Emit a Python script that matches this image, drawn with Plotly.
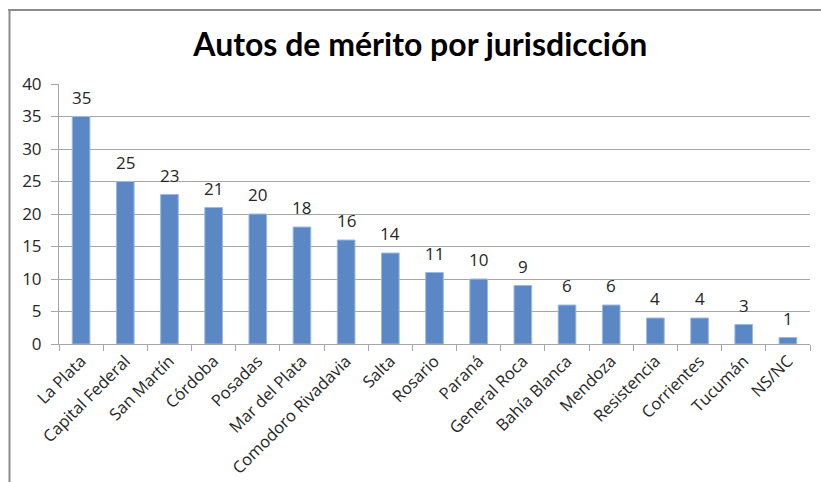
import plotly.graph_objects as go

# Jurisdictions and number of "autos de mérito" in each
jurisdicciones = [
    "La Plata", "Capital Federal", "San Martín", "Córdoba", "Posadas",
    "Mar del Plata", "Comodoro Rivadavia", "Salta", "Rosario", "Paraná",
    "General Roca", "Bahía Blanca", "Mendoza", "Resistencia", "Corrientes",
    "Tucumán", "NS/NC",
]
autos = [35, 25, 23, 21, 20, 18, 16, 14, 11, 10, 9, 6, 6, 4, 4, 3, 1]

y_ticks = [0, 5, 10, 15, 20, 25, 30, 35, 40]

FONT = "Open Sans"
TEXT = "#262626"
GRID = "#a6a6a6"

W, H = 821, 482
ML, MR, MT, MB = 59, 11, 84, 138
pw, ph = W - ML - MR, H - MT - MB


def px_x(v):
    return (v - ML) / pw


def px_y(v):
    return (H - MB - v) / ph


fig = go.Figure(
    go.Bar(
        x=jurisdicciones,
        y=autos,
        marker=dict(color="#5b87c4", line=dict(color="#9dbbe0", width=1)),
    )
)

# value labels floating a little above each bar
for name, val in zip(jurisdicciones, autos):
    fig.add_annotation(
        x=name, y=val, text=str(val), showarrow=False,
        yanchor="bottom", yshift=6,
        font=dict(family=FONT, size=17, color=TEXT),
    )

fig.update_layout(
    width=W,
    height=H,
    margin=dict(l=ML, r=MR, t=MT, b=MB, autoexpand=False),
    paper_bgcolor="white",
    plot_bgcolor="white",
    bargap=0.6,
    showlegend=False,
    title=dict(
        text="<b>Autos de mérito por jurisdicción</b>",
        x=0.512,
        xanchor="center",
        y=1 - 45 / H,
        yanchor="middle",
        font=dict(family="Lato", size=32, color="black"),
    ),
    xaxis=dict(
        automargin=False,
        tickangle=-45,
        tickfont=dict(family=FONT, size=16.5, color=TEXT),
        showline=True,
        linecolor=GRID,
        linewidth=1,
        ticks="outside",
        tickson="boundaries",
        ticklen=6,
        tickcolor=GRID,
        showgrid=False,
    ),
    yaxis=dict(
        automargin=False,
        range=[0, 40],
        tickvals=y_ticks,
        tickfont=dict(family=FONT, size=17, color=TEXT),
        ticklabelstandoff=6,
        showgrid=True,
        gridcolor=GRID,
        gridwidth=1,
        showline=True,
        linecolor=GRID,
        ticks="outside",
        ticklen=7,
        tickcolor=GRID,
        zeroline=False,
    ),
    shapes=[
        dict(type="line", xref="paper", yref="paper",
             x0=px_x(8), x1=px_x(W + 5), y0=px_y(10), y1=px_y(10),
             line=dict(color="#8c8c8c", width=2)),
        dict(type="line", xref="paper", yref="paper",
             x0=px_x(9.5), x1=px_x(9.5), y0=px_y(9), y1=px_y(H + 5),
             line=dict(color="#8c8c8c", width=2)),
    ],
)

fig.write_html("out.html")
